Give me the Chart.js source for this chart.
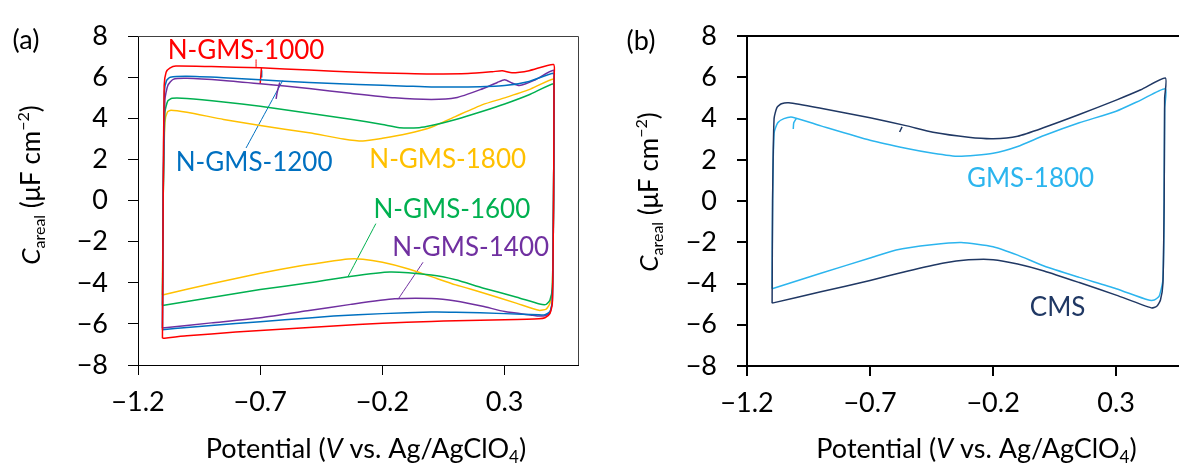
<!DOCTYPE html>
<html>
<head>
<meta charset="utf-8">
<script src="https://cdn.jsdelivr.net/npm/chart.js@4.4.0/dist/chart.umd.min.js"></script>
<style>
  html, body { margin: 0; padding: 0; background: #fff; overflow: hidden; }
  #wrap { position: relative; width: 1179px; height: 463px; overflow: hidden; background: #fff; }
  .panel { position: absolute; top: 0; }
  #panelA { left: 0; }
  #panelB { left: 600px; }
</style>
</head>
<body>
<div id="wrap">
  <div class="panel" id="panelA"><canvas id="chartA" width="600" height="463"></canvas></div>
  <div class="panel" id="panelB"><canvas id="chartB" width="600" height="463"></canvas></div>
</div>
<script>
// axis ticks
const potentialTicks = [-1.2, -0.7, -0.2, 0.3];
const arealTicks = [-8, -6, -4, -2, 0, 2, 4, 6, 8];

// panel (a) — [potential V, C areal uF/cm2], anodic sweep then cathodic sweep
const nGms1000 = [
  [-1.1, -6.7], [-1.097, 0], [-1.093, 5.6], [-1.085, 6.25], [-1.07, 6.45], [-1.045, 6.55],
  [-0.9, 6.52], [-0.7, 6.46], [-0.5, 6.35], [-0.3, 6.25], [-0.1, 6.18], [0.0, 6.16],
  [0.15, 6.18], [0.25, 6.27], [0.29, 6.32], [0.33, 6.22], [0.4, 6.32], [0.5, 6.62],
  [0.502, 6.0], [0.5, 0], [0.495, -5.0], [0.485, -5.5], [0.465, -5.7], [0.44, -5.75],
  [0.3, -5.8], [0.1, -5.85], [0.0, -5.88], [-0.2, -5.97], [-0.4, -6.1], [-0.6, -6.25],
  [-0.8, -6.4], [-1.0, -6.58], [-1.1, -6.7]
];
const nGms1200 = [
  [-1.1, -6.28], [-1.097, 0], [-1.092, 5.3], [-1.083, 5.85], [-1.068, 6.0], [-1.0, 6.05],
  [-0.85, 5.98], [-0.7, 5.88], [-0.5, 5.75], [-0.3, 5.65], [-0.1, 5.57], [0.0, 5.53],
  [0.15, 5.53], [0.3, 5.6], [0.4, 5.8], [0.5, 6.2],
  [0.502, 5.8], [0.5, 0], [0.495, -4.9], [0.485, -5.4], [0.465, -5.55], [0.44, -5.56],
  [0.3, -5.5], [0.1, -5.43], [0.0, -5.42], [-0.2, -5.5], [-0.4, -5.62], [-0.6, -5.8],
  [-0.8, -5.98], [-1.0, -6.17], [-1.1, -6.28]
];
const nGms1400 = [
  [-1.1, -6.2], [-1.097, 0], [-1.09, 4.9], [-1.078, 5.6], [-1.056, 5.9], [-1.0, 5.95],
  [-0.85, 5.85], [-0.7, 5.69], [-0.5, 5.45], [-0.33, 5.22], [-0.15, 5.0], [0.0, 4.92],
  [0.1, 5.0], [0.2, 5.4], [0.27, 5.75], [0.3, 5.88], [0.33, 5.72], [0.36, 5.6], [0.42, 5.85], [0.5, 6.34],
  [0.502, 5.8], [0.5, 0], [0.495, -4.9], [0.485, -5.45], [0.465, -5.6], [0.44, -5.62],
  [0.415, -5.58], [0.3, -5.4], [0.21, -5.14], [0.1, -4.88], [0.0, -4.76], [-0.15, -4.78],
  [-0.33, -5.05], [-0.5, -5.35], [-0.7, -5.7], [-0.9, -5.95], [-1.1, -6.2]
];
const nGms1600 = [
  [-1.1, -5.1], [-1.097, 0], [-1.09, 4.3], [-1.078, 4.85], [-1.06, 4.98], [-1.0, 4.97],
  [-0.85, 4.8], [-0.7, 4.59], [-0.5, 4.25], [-0.33, 3.96], [-0.2, 3.7], [-0.13, 3.55],
  [-0.05, 3.55], [0.0, 3.65], [0.1, 3.95], [0.21, 4.35], [0.3, 4.7], [0.4, 5.15], [0.5, 5.69],
  [0.502, 5.3], [0.5, 0], [0.495, -4.2], [0.485, -4.85], [0.47, -5.05], [0.443, -5.03],
  [0.35, -4.7], [0.21, -4.25], [0.1, -3.85], [0.0, -3.62], [-0.17, -3.47], [-0.34, -3.7],
  [-0.5, -4.0], [-0.7, -4.33], [-0.9, -4.72], [-1.1, -5.1]
];
const nGms1800 = [
  [-1.1, -4.59], [-1.097, 0], [-1.09, 3.8], [-1.08, 4.3], [-1.065, 4.4], [-1.0, 4.3],
  [-0.85, 3.95], [-0.7, 3.65], [-0.5, 3.3], [-0.36, 3.0], [-0.28, 2.9], [-0.2, 3.03],
  [-0.1, 3.25], [0.0, 3.57], [0.1, 4.1], [0.21, 4.67], [0.3, 5.0], [0.4, 5.4], [0.5, 5.92],
  [0.502, 5.5], [0.5, 0], [0.495, -4.3], [0.485, -5.0], [0.47, -5.28], [0.44, -5.34],
  [0.35, -5.0], [0.21, -4.48], [0.1, -4.1], [0.0, -3.7], [-0.1, -3.3], [-0.2, -3.0],
  [-0.28, -2.85], [-0.34, -2.84], [-0.45, -3.02], [-0.54, -3.18], [-0.7, -3.54],
  [-0.9, -4.05], [-1.1, -4.59]
];
// scan-start hooks in (a)
const hook1000 = [[-0.695, 6.45], [-0.698, 6.0], [-0.70, 5.72]];
const hook1200 = [[-0.694, 6.34], [-0.694, 5.99]];
const hook1400 = [[-0.62, 5.75], [-0.63, 5.3], [-0.635, 4.95]];

// panel (b)
const cms = [
  [-1.098, -4.95], [-1.096, 0], [-1.09, 4.0], [-1.078, 4.55], [-1.06, 4.72], [-1.03, 4.77],
  [-0.9, 4.5], [-0.7, 4.04], [-0.55, 3.65], [-0.444, 3.34], [-0.3, 3.1], [-0.2, 3.03],
  [-0.1, 3.15], [0.007, 3.57], [0.15, 4.2], [0.3, 4.9], [0.4, 5.4], [0.5, 5.97],
  [0.497, 5.0], [0.495, 0], [0.49, -4.0], [0.48, -4.8], [0.465, -5.1], [0.443, -5.18],
  [0.3, -4.56], [0.15, -3.95], [0.007, -3.39], [-0.1, -3.05], [-0.2, -2.84], [-0.3, -2.85],
  [-0.4, -3.0], [-0.55, -3.4], [-0.7, -3.85], [-0.9, -4.4], [-1.098, -4.95]
];
const gms1800 = [
  [-1.098, -4.25], [-1.096, 0], [-1.09, 3.3], [-1.075, 3.8], [-1.05, 4.0], [-1.015, 4.07],
  [-0.9, 3.65], [-0.7, 2.95], [-0.55, 2.55], [-0.444, 2.32], [-0.34, 2.17], [-0.2, 2.32],
  [-0.1, 2.65], [0.007, 3.18], [0.15, 3.8], [0.3, 4.36], [0.4, 4.9], [0.5, 5.45],
  [0.497, 4.5], [0.495, 0], [0.49, -3.8], [0.475, -4.6], [0.455, -4.8], [0.428, -4.79],
  [0.3, -4.25], [0.15, -3.7], [0.007, -3.15], [-0.1, -2.62], [-0.2, -2.21], [-0.33, -2.01],
  [-0.45, -2.12], [-0.594, -2.37], [-0.7, -2.76], [-0.9, -3.5], [-1.098, -4.25]
];
const hookGms = [[-1.0, 4.0], [-1.01, 3.8], [-1.012, 3.5]];
const hookCms = [[-0.57, 3.6], [-0.58, 3.35]];

const RED = '#ff0000', BLUE = '#0070c0', PURPLE = '#7030a0', GREEN = '#00b050', YELLOW = '#ffc000';
const NAVY = '#203864', SKY = '#2cb5ee';
const FONT = 'Lato, "Open Sans", sans-serif';

Chart.defaults.font.family = FONT;
Chart.defaults.color = '#000';

function pts(arr) {
  return arr.map(p => ({ x: p[0], y: p[1] }));
}

function line(arr, color, w) {
  return {
    data: pts(arr), showLine: true, borderColor: color, backgroundColor: color,
    borderWidth: w || 1.5, pointRadius: 0, tension: 0.2, fill: false
  };
}

function fmt(v, d) {
  return (v < 0 ? '\u2212' : '') + Math.abs(v).toFixed(d);
}

function drawRich(ctx, parts, x, y, size, rotate) {
  const fontOf = p => (p.italic ? 'italic ' : '') + ((p.sub || p.sup) ? Math.round(size * 0.62) : size) + 'px ' + FONT;
  ctx.save();
  ctx.translate(x, y);
  if (rotate) ctx.rotate(-Math.PI / 2);
  let w = 0;
  parts.forEach(p => { ctx.font = fontOf(p); w += ctx.measureText(p.t).width; });
  let cx = -w / 2;
  ctx.textBaseline = 'middle';
  ctx.textAlign = 'left';
  ctx.fillStyle = '#000';
  parts.forEach(p => {
    ctx.font = fontOf(p);
    const dy = p.sub ? size * 0.3 : p.sup ? -size * 0.33 : 0;
    ctx.fillText(p.t, cx, dy);
    cx += ctx.measureText(p.t).width;
  });
  ctx.restore();
}

const xTitle = [{ t: 'Potential (' }, { t: 'V', italic: true }, { t: ' vs. Ag/AgClO' }, { t: '4', sub: true }, { t: ')' }];
const yTitle = [{ t: 'C', italic: true }, { t: 'areal', sub: true }, { t: ' (\u03bcF cm' }, { t: '\u22122', sup: true }, { t: ')' }];

function makeChart(id, p) {
  const ctx = document.getElementById(id).getContext('2d');
  return new Chart(ctx, {
    type: 'scatter',
    data: { datasets: p.datasets },
    options: {
      responsive: false,
      animation: false,
      events: [],
      layout: { padding: { top: p.top, right: p.right, left: 0, bottom: 0 } },
      plugins: { legend: { display: false }, tooltip: { enabled: false } },
      scales: {
        x: {
          type: 'linear', min: -1.2, max: 0.6,
          afterBuildTicks: s => { s.ticks = potentialTicks.map(v => ({ value: v })); },
          afterFit: s => { s.height = 463 - p.bottom; },
          grid: { drawOnChartArea: false, drawTicks: true, tickLength: 10, color: '#000', lineWidth: p.lw },
          border: { display: true, color: '#000', width: p.lw },
          ticks: { padding: 11, maxRotation: 0, autoSkip: false, font: { size: 27 }, callback: v => fmt(v, 1) }
        },
        y: {
          type: 'linear', min: -8, max: 8,
          afterBuildTicks: s => { s.ticks = arealTicks.map(v => ({ value: v })); },
          afterFit: s => { s.width = p.left; },
          grid: { drawOnChartArea: false, drawTicks: true, tickLength: 10, color: '#000', lineWidth: p.lw },
          border: { display: true, color: '#000', width: p.lw },
          ticks: { padding: 20, font: { size: 27 }, callback: v => fmt(v, 0) }
        }
      }
    },
    plugins: [{
      id: 'decor',
      afterDraw(chart) {
        const c = chart.ctx, a = chart.chartArea;
        const sx = chart.scales.x, sy = chart.scales.y;
        // box frame (top / right)
        c.save();
        c.strokeStyle = p.frameColor;
        c.lineWidth = p.lw;
        const off = p.lw % 2 ? 0.5 : 0;
        c.beginPath();
        c.moveTo(Math.round(a.left), Math.round(a.top) + off);
        c.lineTo(Math.round(a.right) + off, Math.round(a.top) + off);
        if (p.rightSide) c.lineTo(Math.round(a.right) + off, Math.round(a.bottom));
        c.stroke();
        c.restore();
        // series labels
        c.save();
        c.font = '26px ' + FONT;
        c.textAlign = 'center';
        c.textBaseline = 'middle';
        p.labels.forEach(l => {
          c.fillStyle = l.color;
          c.fillText(l.text, sx.getPixelForValue(l.x), sy.getPixelForValue(l.y));
        });
        // panel letter
        c.fillStyle = '#000';
        c.font = '27px ' + FONT;
        c.fillText(p.letter, p.letterPos[0], p.letterPos[1]);
        c.restore();
        // axis titles
        drawRich(c, xTitle, (a.left + a.right) / 2 + 8, 449, 27, false);
        drawRich(c, yTitle, p.yTitlePos[0], p.yTitlePos[1], 26, true);
      }
    }]
  });
}

makeChart('chartA', {
  left: 138, right: 22, top: 24, bottom: 365, lw: 1,
  frameColor: '#404040', rightSide: true,
  letter: '(a)', letterPos: [26, 40], yTitlePos: [32, 185],
  datasets: [
    line(nGms1000, RED), line(nGms1200, BLUE), line(nGms1400, PURPLE),
    line(nGms1600, GREEN), line(nGms1800, YELLOW),
    line(hook1000, RED), line(hook1200, BLUE), line(hook1400, PURPLE),
    // leader lines
    line([[-0.717, 6.87], [-0.717, 6.45]], RED, 1),
    line([[-0.758, 2.56], [-0.608, 5.84]], BLUE, 1),
    line([[-0.227, -1.12], [-0.341, -3.70]], GREEN, 1),
    line([[-0.034, -3.0], [-0.136, -4.80]], PURPLE, 1)
  ],
  labels: [
    { text: 'N-GMS-1000', x: -0.758, y: 7.30, color: RED },
    { text: 'N-GMS-1200', x: -0.725, y: 1.85, color: BLUE },
    { text: 'N-GMS-1800', x: 0.067, y: 1.99, color: YELLOW },
    { text: 'N-GMS-1600', x: 0.084, y: -0.45, color: GREEN },
    { text: 'N-GMS-1400', x: 0.161, y: -2.28, color: PURPLE }
  ]
});

makeChart('chartB', {
  left: 147, right: 10, top: 25.5, bottom: 366, lw: 2,
  frameColor: '#000', rightSide: false,
  letter: '(b)', letterPos: [41, 41], yTitlePos: [50, 192],
  datasets: [
    line(cms, NAVY), line(gms1800, SKY),
    line(hookCms, NAVY), line(hookGms, SKY)
  ],
  labels: [
    { text: 'GMS-1800', x: -0.048, y: 1.11, color: SKY },
    { text: 'CMS', x: 0.062, y: -5.15, color: NAVY }
  ]
});
</script>
</body>
</html>
